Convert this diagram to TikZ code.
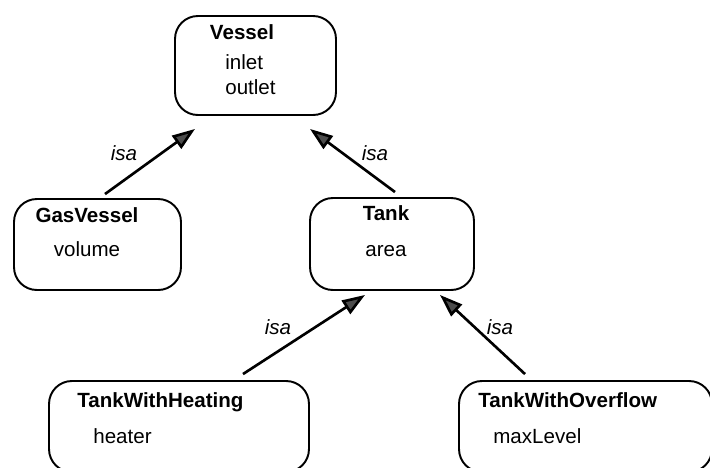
\documentclass[tikz,border=0pt]{standalone}
\usepackage{fontspec}
\setmainfont{Liberation Sans}
\usetikzlibrary{arrows.meta,calc}
\begin{document}
\begin{tikzpicture}[x=0.02cm,y=-0.02cm,
  box/.style={draw, line width=1.1pt, rounded corners=13pt, inner sep=0pt},
  title/.style={font=\fontsize{11.7}{14}\selectfont\bfseries, inner sep=0pt, text height=8.4pt, text depth=0pt},
  attr/.style={font=\fontsize{11.7}{14}\selectfont, inner sep=0pt, text height=8.4pt, text depth=0pt},
  isa/.style={line width=1.5pt, -{Triangle[length=13pt,width=9pt,fill=gray!60!black]}},
  lbl/.style={font=\fontsize{11.7}{14}\selectfont\itshape, inner sep=0pt}]
\useasboundingbox (0,0) rectangle (710,467);
\clip (0,0) rectangle (710,467);
% classes
\node[box, minimum width=3.22cm, minimum height=1.98cm] (vessel) at (255.5,65.5) {};
\node[title] (vesselT) at (242,32) {Vessel};
\node[attr, anchor=west] (inlet) at (225,62) {inlet};
\node[attr, anchor=west] (outlet) at (225,87) {outlet};
\node[box, minimum width=3.34cm, minimum height=1.82cm] (gasvessel) at (97.5,244.5) {};
\node[title] (gasvesselT) at (87,215) {GasVessel};
\node[attr] (volume) at (87,249) {volume};
\node[box, minimum width=3.28cm, minimum height=1.84cm] (tank) at (392,244) {};
\node[title] (tankT) at (386,213) {Tank};
\node[attr] (area) at (386,249) {area};
\node[box, minimum width=5.2cm, minimum height=1.82cm] (heating) at (179,426.5) {};
\node[title, anchor=west] (heatingT) at (77,400) {TankWithHeating};
\node[attr, anchor=west] (heater) at (93,436) {heater};
\node[box, minimum width=5.06cm, minimum height=1.82cm] (overflow) at (585.5,426.5) {};
\node[title, anchor=west] (overflowT) at (478,400) {TankWithOverflow};
\node[attr, anchor=west] (maxlevel) at (493,436) {maxLevel};
% isa links
\draw[isa] ($(gasvessel.north)+(7.5,-4)$) -- ($(vessel.south)+(-60.5,13)$);
\draw[isa] ($(tank.north)+(3,-5)$) -- ($(vessel.south)+(54.5,13)$);
\draw[isa] ($(heating.north)+(64,-6)$) -- ($(tank.south)+(-27,4)$);
\draw[isa] ($(overflow.north)+(-60.5,-6)$) -- ($(tank.south)+(48,4)$);
\node[lbl] (isa1) at (124,153) {isa};
\node[lbl] (isa2) at (375,153) {isa};
\node[lbl] (isa3) at (278,327) {isa};
\node[lbl] (isa4) at (500,327) {isa};
\end{tikzpicture}
\end{document}
